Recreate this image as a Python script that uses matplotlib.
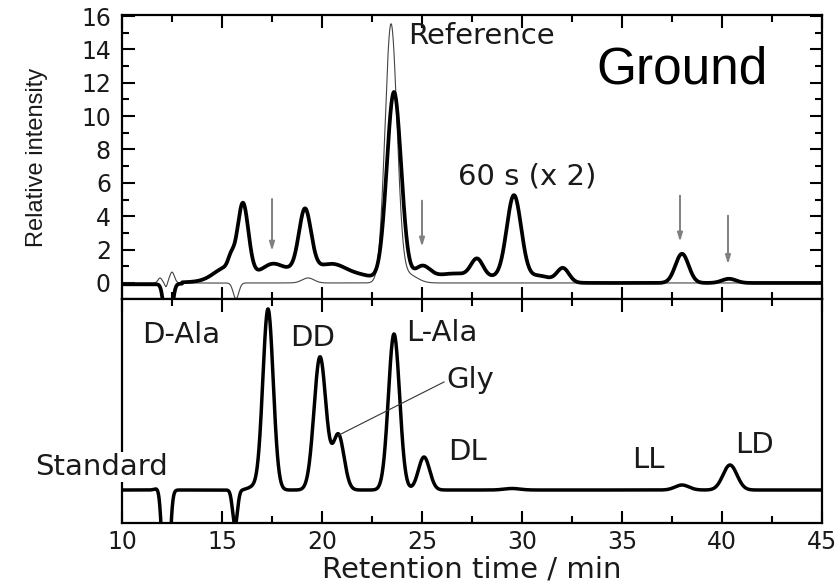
import numpy as np
import matplotlib.pyplot as plt
from matplotlib.ticker import MultipleLocator

# peak tables: retention time (min), height, width (sigma, min)
ground_rt = [12.3, 15.2, 15.45, 16.05, 17.5, 19.15, 19.0, 20.6, 22.0, 23.6, 25.0, 26.4, 27.75, 28.8, 29.6, 30.9, 32.05, 38.0, 40.35]
ground_h = [-4.0, 0.7, 0.6, 4.15, 0.45, 3.6, 0.85, 0.45, 0.1, 11.3, 0.85, 0.45, 1.05, 0.35, 4.95, 0.3, 0.85, 1.75, 0.25]
ground_w = [0.16, 0.6, 0.15, 0.27, 0.45, 0.3, 2.4, 0.6, 0.6, 0.36, 0.4, 0.9, 0.3, 1.5, 0.36, 0.5, 0.3, 0.33, 0.35]

ref_rt = [11.9, 12.2, 12.5, 15.7, 19.3, 23.45, 24.3]
ref_h = [0.3, -0.25, 0.65, -0.95, 0.3, 15.45, 0.5]
ref_w = [0.1, 0.06, 0.12, 0.14, 0.3, 0.3, 0.45]

std_rt = [11.8, 12.2, 15.65, 16.55, 17.3, 19.9, 20.82, 23.6, 25.1, 29.5, 38.0, 40.4]
std_h = [2.0, -150.0, -36.0, 3.0, 181.0, 133.0, 55.0, 156.0, 33.0, 1.5, 5.0, 25.0]
std_w = [0.15, 0.15, 0.12, 0.25, 0.26, 0.3, 0.28, 0.28, 0.28, 0.4, 0.35, 0.35]

# arrows in the upper trace: x, tail y, head y
arrow_x = [17.5, 25.0, 37.9, 40.3]
arrow_y0 = [5.2, 5.1, 5.4, 4.2]
arrow_y1 = [1.75, 2.0, 2.3, 0.95]

std_labels = ["D-Ala", "DD", "L-Ala", "Gly", "DL", "LL", "LD"]
std_label_x = [11.0, 18.4, 24.2, 26.2, 26.3, 35.5, 40.65]
std_label_y = [155, 152, 157, 110, 38, 30, 45]


def trace(t, rt, h, w):
    y = np.zeros_like(t)
    for c, a, s in zip(rt, h, w):
        y += a * np.exp(-((t - c) ** 2) / (2 * s * s))
    return y


t = np.linspace(10, 45, 3000)
ground = trace(t, ground_rt, ground_h, ground_w) - 0.08 * (t < 13)
reference = trace(t, ref_rt, ref_h, ref_w)
standard = trace(t, std_rt, std_h, std_w)

plt.rcParams["font.family"] = "DejaVu Sans"
txt = "#1a1a1a"
fs = 21

fig = plt.figure(figsize=(8.38, 5.86), dpi=100)
ax1 = fig.add_axes([0.1456, 0.4898, 0.8353, 0.4846])
ax2 = fig.add_axes([0.1456, 0.1075, 0.8353, 0.3823])

ax1.plot(t, reference, color="#444444", lw=0.8)
ax1.plot(t, ground, color="black", lw=2.7)
ax1.set_xlim(10, 45)
ax1.set_ylim(-0.96, 16.06)
ax1.yaxis.set_major_locator(MultipleLocator(2))
ax1.yaxis.set_minor_locator(MultipleLocator(1))
ax1.set_ylabel("Relative intensity", fontsize=17, family="Liberation Sans",
               color=txt, labelpad=24)

for x, y0, y1 in zip(arrow_x, arrow_y0, arrow_y1):
    ax1.annotate("", xy=(x, y1), xytext=(x, y0),
                 arrowprops=dict(arrowstyle="-|>,head_length=0.5,head_width=0.15",
                                 color="#808080", lw=1.4))

ax1.text(24.3, 14.8, "Reference", fontsize=fs, color=txt, va="center")
ax1.text(33.7, 12.75, "Ground", fontsize=37, family="Liberation Sans", color="black", va="center")
ax1.text(26.8, 6.4, "60 s (x 2)", fontsize=fs, color=txt, va="center")

ax2.plot(t, standard, color="black", lw=2.5)
ax2.set_xlim(10, 45)
ax2.set_ylim(-33, 191)
ax2.set_yticks([])
ax2.set_xlabel("Retention time / min", fontsize=fs, color=txt, labelpad=1)

for lab, x, y in zip(std_labels, std_label_x, std_label_y):
    ax2.text(x, y, lab, fontsize=fs, color=txt, va="center")
ax2.text(5.65, 23, "Standard", fontsize=fs, color=txt, va="center", clip_on=False,
         bbox=dict(facecolor="white", edgecolor="none", pad=1))
ax2.plot([20.85, 26.1], [55, 108], color="#333333", lw=0.8)

for ax in (ax1, ax2):
    ax.xaxis.set_major_locator(MultipleLocator(5))
    ax.xaxis.set_minor_locator(MultipleLocator(2.5))
    ax.tick_params(which="both", direction="in", top=True, right=True, width=1.5, colors="black")
    ax.tick_params(which="major", length=9, labelsize=17, labelcolor=txt, pad=8)
    ax.tick_params(which="minor", length=5)
    for s in ax.spines.values():
        s.set_linewidth(1.6)
ax1.tick_params(labelbottom=False)
ax2.tick_params(axis="x", pad=5)

fig.savefig("out.png", dpi=100)
